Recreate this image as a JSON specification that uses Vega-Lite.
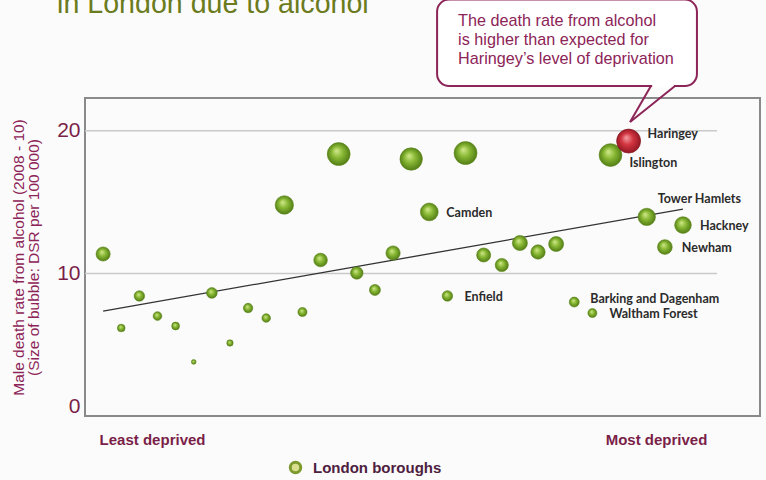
{
  "$schema": "https://vega.github.io/schema/vega-lite/v6.json",
  "width": 675,
  "height": 318,
  "autosize": {"type": "none"},
  "padding": {"left": 85, "top": 98, "right": 6, "bottom": 64},
  "background": "#fbfbfb",
  "config": {
    "view": {"stroke": "#8a8a8a", "strokeWidth": 2},
    "font": "Liberation Sans"
  },
  "datasets": {
    "boroughs": [
      {"rank": 1, "rate": 11.36, "name": ""},
      {"rank": 2, "rate": 6.17, "name": ""},
      {"rank": 3, "rate": 8.42, "name": ""},
      {"rank": 4, "rate": 7.01, "name": ""},
      {"rank": 5, "rate": 6.31, "name": ""},
      {"rank": 6, "rate": 3.79, "name": ""},
      {"rank": 7, "rate": 8.63, "name": ""},
      {"rank": 8, "rate": 5.12, "name": ""},
      {"rank": 9, "rate": 7.57, "name": ""},
      {"rank": 10, "rate": 6.87, "name": ""},
      {"rank": 11, "rate": 14.8, "name": ""},
      {"rank": 12, "rate": 7.29, "name": ""},
      {"rank": 13, "rate": 10.94, "name": ""},
      {"rank": 14, "rate": 18.37, "name": ""},
      {"rank": 15, "rate": 10.03, "name": ""},
      {"rank": 16, "rate": 8.84, "name": ""},
      {"rank": 17, "rate": 11.43, "name": ""},
      {"rank": 18, "rate": 18.02, "name": ""},
      {"rank": 19, "rate": 14.31, "name": "Camden"},
      {"rank": 20, "rate": 8.42, "name": "Enfield"},
      {"rank": 21, "rate": 18.44, "name": ""},
      {"rank": 22, "rate": 11.29, "name": ""},
      {"rank": 23, "rate": 10.59, "name": ""},
      {"rank": 24, "rate": 12.13, "name": ""},
      {"rank": 25, "rate": 11.5, "name": ""},
      {"rank": 26, "rate": 12.06, "name": ""},
      {"rank": 27, "rate": 7.99, "name": "Barking and Dagenham"},
      {"rank": 28, "rate": 7.22, "name": "Waltham Forest"},
      {"rank": 29, "rate": 18.3, "name": "Islington"},
      {"rank": 30, "rate": 19.28, "name": "Haringey"},
      {"rank": 31, "rate": 13.96, "name": "Tower Hamlets"},
      {"rank": 32, "rate": 11.85, "name": "Newham"},
      {"rank": 33, "rate": 13.39, "name": "Hackney"}
    ],
    "grid": [{"g": 10}, {"g": 20}],
    "trend": [{"rank": 1, "rate": 7.36}, {"rank": 33, "rate": 14.5}]
  },
  "layer": [
    {
      "data": {"name": "grid"},
      "mark": {"type": "rule", "stroke": "#c9c9c9", "strokeWidth": 1.5},
      "encoding": {
        "y": {
          "field": "g",
          "type": "quantitative",
          "scale": {"domain": [0, 22.3], "nice": false, "zero": false},
          "axis": {
            "values": [0, 10, 20],
            "title": ["Male death rate from alcohol (2008 - 10)", "(Size of bubble: DSR per 100 000)"],
            "titleFontSize": 15.5,
            "titleFontWeight": "normal",
            "titleColor": "#8c2457",
            "titlePadding": 15,
            "titleLineHeight": 15,
            "labelFontSize": 21,
            "labelColor": "#7a1f48",
            "labelPadding": 5,
            "labelFlush": true,
            "ticks": false,
            "tickSize": 0,
            "domain": false,
            "grid": false
          }
        },
        "x": {
          "datum": 0,
          "type": "quantitative",
          "scale": {"domain": [0, 37.25], "nice": false, "zero": false},
          "axis": {
            "values": [3.7, 31.51],
            "labelExpr": "datum.value < 10 ? 'Least deprived' : 'Most deprived'",
            "title": null,
            "labelFontSize": 15,
            "labelFontWeight": "bold",
            "labelColor": "#7a1f48",
            "labelBaseline": "middle",
            "labelPadding": 23,
            "labelOverlap": false,
            "ticks": false,
            "tickSize": 0,
            "domain": false,
            "grid": false
          }
        },
        "x2": {"datum": 34.88}
      }
    },
    {
      "data": {"name": "trend"},
      "mark": {"type": "line", "stroke": "#333333", "strokeWidth": 1.3},
      "encoding": {
        "x": {"field": "rank", "type": "quantitative"},
        "y": {"field": "rate", "type": "quantitative"}
      }
    },
    {
      "data": {"name": "boroughs"},
      "transform": [{"filter": "false"}],
      "mark": {"type": "point", "shape": "circle", "filled": true, "opacity": 1, "fill": "#d9df8c", "strokeWidth": 3},
      "encoding": {
        "x": {"field": "rank", "type": "quantitative"},
        "y": {"field": "rate", "type": "quantitative"},
        "stroke": {
          "datum": "London boroughs",
          "scale": {"range": ["#7d9a2e"]},
          "legend": {
            "orient": "none",
            "legendX": 203,
            "legendY": 362,
            "title": null,
            "padding": 0,
            "symbolType": "circle",
            "symbolSize": 110,
            "symbolStrokeWidth": 3,
            "symbolFillColor": "#d9df8c",
            "labelFontSize": 15,
            "labelFontWeight": "bold",
            "labelColor": "#4e2040",
            "labelOffset": 10
          }
        }
      }
    },
    {
      "data": {"name": "boroughs"},
      "transform": [{"filter": "datum.name !== 'Haringey'"}],
      "mark": {
        "type": "point",
        "shape": "circle",
        "filled": true,
        "opacity": 1,
        "stroke": "#5a8418",
        "strokeWidth": 0.6,
        "fill": {
          "gradient": "radial",
          "x1": 0.4, "y1": 0.35, "r1": 0,
          "x2": 0.5, "y2": 0.5, "r2": 0.55,
          "stops": [
            {"offset": 0, "color": "#d4ea8e"},
            {"offset": 0.45, "color": "#88b834"},
            {"offset": 1, "color": "#4b7512"}
          ]
        }
      },
      "encoding": {
        "x": {"field": "rank", "type": "quantitative"},
        "y": {"field": "rate", "type": "quantitative"},
        "size": {
          "field": "rate",
          "type": "quantitative",
          "scale": {"type": "pow", "exponent": 2, "domain": [0, 20], "range": [0, 620]},
          "legend": null
        }
      }
    },
    {
      "data": {"name": "boroughs"},
      "transform": [{"filter": "datum.name === 'Haringey'"}],
      "mark": {
        "type": "point",
        "shape": "circle",
        "filled": true,
        "opacity": 1,
        "stroke": "#7a1018",
        "strokeWidth": 0.6,
        "fill": {
          "gradient": "radial",
          "x1": 0.4, "y1": 0.35, "r1": 0,
          "x2": 0.5, "y2": 0.5, "r2": 0.55,
          "stops": [
            {"offset": 0, "color": "#f4a0a6"},
            {"offset": 0.45, "color": "#d2343f"},
            {"offset": 1, "color": "#8a1420"}
          ]
        }
      },
      "encoding": {
        "x": {"field": "rank", "type": "quantitative"},
        "y": {"field": "rate", "type": "quantitative"},
        "size": {"field": "rate", "type": "quantitative", "legend": null}
      }
    },
    {
      "data": {"name": "boroughs"},
      "transform": [{"filter": "indexof(['Camden', 'Enfield', 'Waltham Forest', 'Hackney', 'Newham'], datum.name) >= 0"}],
      "mark": {"type": "text", "align": "left", "baseline": "middle", "dx": 17, "dy": 1, "font": "Lato", "fontWeight": "bold", "fontSize": 12.5, "color": "#2b2b2b"},
      "encoding": {
        "x": {"field": "rank", "type": "quantitative"},
        "y": {"field": "rate", "type": "quantitative"},
        "text": {"field": "name"}
      }
    },
    {
      "data": {"name": "boroughs"},
      "transform": [{"filter": "datum.name === 'Barking and Dagenham'"}],
      "mark": {"type": "text", "align": "left", "baseline": "middle", "dx": 16, "dy": -3, "font": "Lato", "fontWeight": "bold", "fontSize": 12.5, "color": "#2b2b2b"},
      "encoding": {
        "x": {"field": "rank", "type": "quantitative"},
        "y": {"field": "rate", "type": "quantitative"},
        "text": {"field": "name"}
      }
    },
    {
      "data": {"name": "boroughs"},
      "transform": [{"filter": "datum.name === 'Haringey'"}],
      "mark": {"type": "text", "align": "left", "baseline": "middle", "dx": 19, "dy": -7, "font": "Lato", "fontWeight": "bold", "fontSize": 12.5, "color": "#2b2b2b"},
      "encoding": {
        "x": {"field": "rank", "type": "quantitative"},
        "y": {"field": "rate", "type": "quantitative"},
        "text": {"field": "name"}
      }
    },
    {
      "data": {"name": "boroughs"},
      "transform": [{"filter": "datum.name === 'Islington'"}],
      "mark": {"type": "text", "align": "left", "baseline": "middle", "dx": 19, "dy": 8, "font": "Lato", "fontWeight": "bold", "fontSize": 12.5, "color": "#2b2b2b"},
      "encoding": {
        "x": {"field": "rank", "type": "quantitative"},
        "y": {"field": "rate", "type": "quantitative"},
        "text": {"field": "name"}
      }
    },
    {
      "data": {"name": "boroughs"},
      "transform": [{"filter": "datum.name === 'Tower Hamlets'"}],
      "mark": {"type": "text", "align": "left", "baseline": "middle", "dx": 11, "dy": -18, "font": "Lato", "fontWeight": "bold", "fontSize": 12.5, "color": "#2b2b2b"},
      "encoding": {
        "x": {"field": "rank", "type": "quantitative"},
        "y": {"field": "rate", "type": "quantitative"},
        "text": {"field": "name"}
      }
    },
    {
      "data": {"values": [{"box": "callout"}]},
      "mark": {"type": "rect", "fill": "#ffffff", "stroke": "#8c2457", "strokeWidth": 2, "cornerRadius": 12},
      "encoding": {
        "x": {"datum": 19.43, "type": "quantitative"},
        "x2": {"datum": 33.77},
        "y": {"datum": 23.14, "type": "quantitative"},
        "y2": {"datum": 29.2}
      }
    },
    {
      "data": {"values": [{"box": "callout"}]},
      "mark": {"type": "rule", "stroke": "#ffffff", "strokeWidth": 3},
      "encoding": {
        "x": {"datum": 31.3, "type": "quantitative"},
        "x2": {"datum": 32.5},
        "y": {"datum": 23.14, "type": "quantitative"}
      }
    },
    {
      "data": {"values": [{"box": "callout"}]},
      "mark": {"type": "rule", "stroke": "#8c2457", "strokeWidth": 2},
      "encoding": {
        "x": {"datum": 31.23, "type": "quantitative"},
        "x2": {"datum": 30.08},
        "y": {"datum": 23.14, "type": "quantitative"},
        "y2": {"datum": 20.62}
      }
    },
    {
      "data": {"values": [{"box": "callout"}]},
      "mark": {"type": "rule", "stroke": "#8c2457", "strokeWidth": 2},
      "encoding": {
        "x": {"datum": 32.56, "type": "quantitative"},
        "x2": {"datum": 30.08},
        "y": {"datum": 23.14, "type": "quantitative"},
        "y2": {"datum": 20.62}
      }
    },
    {
      "data": {"values": [{"t": "The death rate from alcohol\nis higher than expected for\nHaringey’s level of deprivation"}]},
      "mark": {"type": "text", "align": "left", "baseline": "middle", "lineBreak": "\n", "lineHeight": 19, "fontSize": 16.2, "color": "#8c2457"},
      "encoding": {
        "x": {"datum": 20.59, "type": "quantitative"},
        "y": {"datum": 27.7, "type": "quantitative"},
        "text": {"field": "t"}
      }
    },
    {
      "data": {"values": [{"t": "in London due to alcohol"}]},
      "mark": {"type": "text", "align": "left", "baseline": "alphabetic", "fontSize": 28.6, "color": "#6b7b1d"},
      "encoding": {
        "x": {"datum": -1.54, "type": "quantitative"},
        "y": {"datum": 28.26, "type": "quantitative"},
        "text": {"field": "t"}
      }
    }
  ]
}
